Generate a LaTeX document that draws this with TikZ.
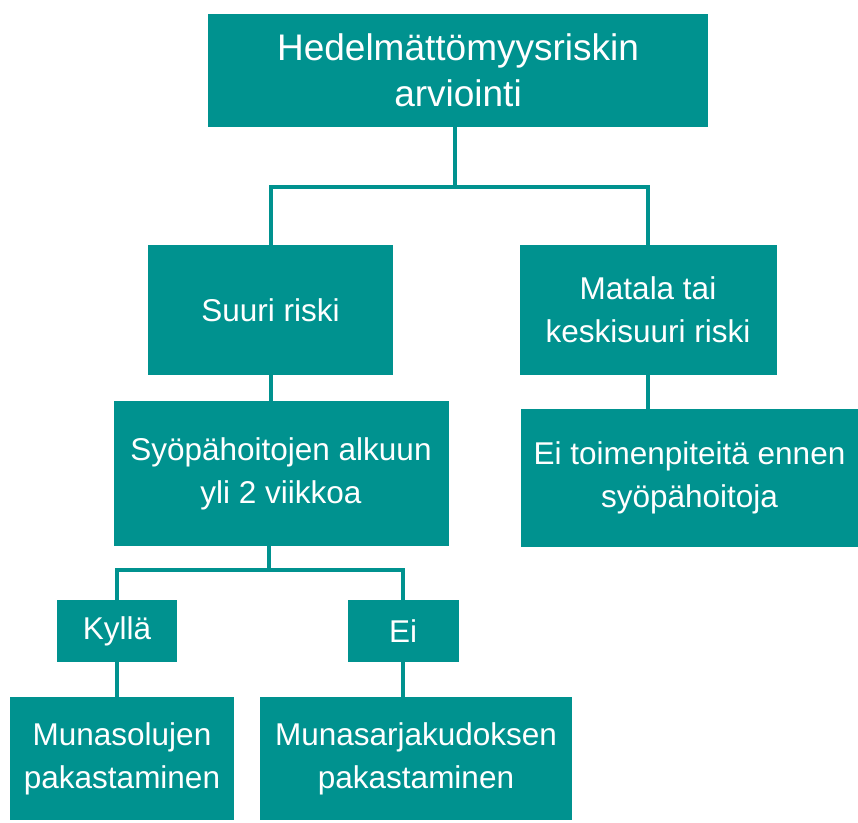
\documentclass[tikz,border=0pt]{standalone}
\usepackage{fontspec}
\setmainfont{Liberation Sans}
\definecolor{teal}{RGB}{0,146,143}
\tikzset{
  box/.style={fill=teal, text=white, align=center, inner sep=0pt,
    font=\fontsize{31.5}{43}\selectfont},
  link/.style={draw=teal, line width=4pt}
}
\begin{document}
\begin{tikzpicture}[x=1pt, y=-1pt]
  \useasboundingbox (0,0) rectangle (858,822);

  % -- Top level --
  \node[box, minimum width=500, minimum height=113,
    font=\fontsize{37}{46}\selectfont] (riski) at (458,70) {Hedelmättömyysriskin\\arviointi};

  % -- Risk levels --
  \node[box, minimum width=245, minimum height=130] (suuri) at (270.5,310) {Suuri riski};
  \node[box, minimum width=257, minimum height=130] (matala) at (648,310) {Matala tai\\keskisuuri riski};

  % -- Second level --
  \node[box, minimum width=335, minimum height=145] (aika) at (281,473.5) {Syöpähoitojen alkuun\\yli 2 viikkoa};
  \node[box, minimum width=337, minimum height=138] (eitoim) at (689.5,478) {Ei toimenpiteitä ennen\\syöpähoitoja};

  % -- Answers --
  \node[box, minimum width=120, minimum height=62] (kylla) at (117,631) {Kyllä};
  \node[box, minimum width=111, minimum height=62] (ei) at (403,631) {Ei};

  % -- Outcomes --
  \node[box, minimum width=224, minimum height=123] (solut) at (122,758.5) {Munasolujen\\pakastaminen};
  \node[box, minimum width=312, minimum height=123] (kudos) at (416,758.5) {Munasarjakudoksen\\pakastaminen};

  % Junctions
  \coordinate (haara1) at (455,187);
  \coordinate (haara2) at (269,570);

  % Connectors
  \draw[link] (riski.south -| haara1) -- (haara1);
  \draw[link] (suuri.north) |- (haara1) -| (matala.north);
  \draw[link] (suuri.south) -- (suuri.south |- aika.north);
  \draw[link] (matala.south) -- (matala.south |- eitoim.north);
  \draw[link] (aika.south -| haara2) -- (haara2);
  \draw[link] (kylla.north) |- (haara2) -| (ei.north);
  \draw[link] (kylla.south) -- (kylla.south |- solut.north);
  \draw[link] (ei.south) -- (ei.south |- kudos.north);

\end{tikzpicture}
\end{document}
